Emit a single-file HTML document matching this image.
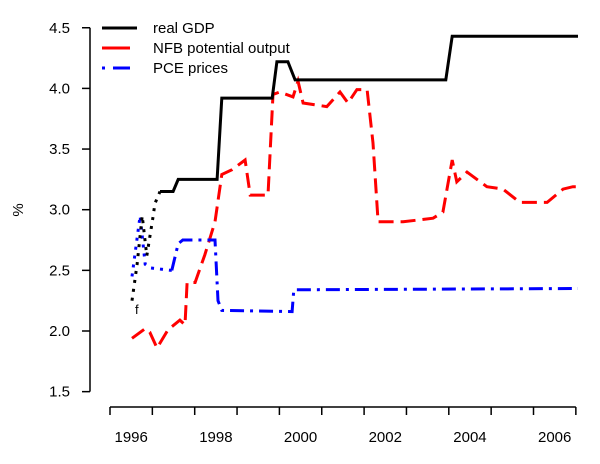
<!DOCTYPE html>
<html><head><meta charset="utf-8"><style>
body{margin:0;background:#fff;}
svg{display:block;font-family:"Liberation Sans",Arial,sans-serif;}
</style></head><body>
<svg id="chart" width="600" height="464" viewBox="0 0 600 464" xmlns="http://www.w3.org/2000/svg"></svg>
<script>
const yTicks = [1.5, 2.0, 2.5, 3.0, 3.5, 4.0, 4.5];
const yTickLabels = ["1.5", "2.0", "2.5", "3.0", "3.5", "4.0", "4.5"];
const xTickYears = [1996,1997,1998,1999,2000,2001,2002,2003,2004,2005,2006,2007];
const xLabelYears = [1996, 1998, 2000, 2002, 2004, 2006];
const gdpYears = [1996.52,1996.64,1996.76,1996.87,1997.02,1997.06,1997.18,1997.49,1997.61,1998.53,1998.64,1999.83,1999.94,2000.20,2000.37,2003.93,2004.08,2007.05];
const gdpValues = [2.25,2.55,2.95,2.62,2.95,3.05,3.15,3.15,3.25,3.25,3.92,3.92,4.22,4.22,4.07,4.07,4.43,4.43];
const nfbYears = [1996.52,1996.83,1996.94,1997.11,1997.37,1997.65,1997.77,1997.82,1998.01,1998.24,1998.48,1998.64,1998.88,1999.19,1999.31,1999.73,1999.85,2000.01,2000.32,2000.44,2000.56,2001.12,2001.43,2001.62,2001.83,2002.07,2002.21,2002.33,2002.92,2003.63,2003.86,2004.08,2004.19,2004.43,2004.90,2005.28,2005.68,2006.32,2006.70,2006.93,2007.05];
const nfbValues = [1.94,2.02,1.99,1.86,2.01,2.09,2.05,2.40,2.40,2.63,2.90,3.29,3.33,3.41,3.12,3.12,3.95,3.97,3.93,4.06,3.88,3.85,3.97,3.88,3.99,3.99,3.55,2.90,2.90,2.93,2.98,3.41,3.23,3.31,3.19,3.17,3.06,3.06,3.17,3.19,3.19];
const pceYears = [1996.52,1996.71,1996.83,1996.94,1997.46,1997.61,1997.72,1998.48,1998.55,1998.64,2000.30,2000.34,2007.05];
const pceValues = [2.45,2.95,2.55,2.52,2.50,2.72,2.75,2.75,2.25,2.17,2.16,2.34,2.35];
const gdpDotCut = 6;
const pceDotCut = 4;

const NS = "http://www.w3.org/2000/svg";
const svg = document.getElementById('chart');
const X = yr => 110 + (yr - 1996) * 42.35;
const Y = v => 331 - (v - 2) * 121.3;
function mk(tag, attrs, parent) {
  const e = document.createElementNS(NS, tag);
  for (const k in attrs) e.setAttribute(k, attrs[k]);
  (parent || svg).appendChild(e);
  return e;
}
let ya = mk('line', {x1:90, y1:Y(1.5), x2:90, y2:Y(4.5), stroke:'#000', 'stroke-width':1.5});


yTicks.forEach((v, i) => {
  const t = mk('line', {x1:82, y1:Y(v), x2:90, y2:Y(v), stroke:'#000', 'stroke-width':1.5});
  
  
  const l = mk('text', {x:70, y:Y(v)+5, 'text-anchor':'end', 'font-size':15, fill:'#000'});
  l.textContent = yTickLabels[i];
  
  
});
const yt = mk('text', {x:0, y:0, 'font-size':15, 'text-anchor':'middle', transform:'translate(23,210) rotate(-90)'});
yt.textContent = '%';


const xa = mk('line', {x1:X(1996), y1:407, x2:X(2007), y2:407, stroke:'#000', 'stroke-width':1.5});


xTickYears.forEach(yr => {
  const t = mk('line', {x1:X(yr), y1:407, x2:X(yr), y2:415, stroke:'#000', 'stroke-width':1.5});
  
  
});
xLabelYears.forEach(yr => {
  const l = mk('text', {x:X(yr+0.5), y:442, 'text-anchor':'middle', 'font-size':15});
  l.textContent = String(yr);
  
  
});
function pts(ys, vs, a, b) {
  const out = [];
  for (let i = a; i <= b; i++) out.push(X(ys[i]).toFixed(1) + ',' + Y(vs[i]).toFixed(1));
  return out.join(' ');
}
const nfb = mk('polyline', {points:pts(nfbYears, nfbValues, 0, nfbYears.length-1), fill:'none', stroke:'#ff0000', 'stroke-width':3, 'stroke-dasharray':'15 7'});


const pce1 = mk('polyline', {points:pts(pceYears, pceValues, 0, pceDotCut), fill:'none', stroke:'#0000ff', 'stroke-width':3, 'stroke-dasharray':'3 6'});


const pce2 = mk('polyline', {points:pts(pceYears, pceValues, pceDotCut, pceYears.length-1), fill:'none', stroke:'#0000ff', 'stroke-width':3, 'stroke-dasharray':'14 6 3 6'});


const g1 = mk('polyline', {points:pts(gdpYears, gdpValues, 0, gdpDotCut), fill:'none', stroke:'#000', 'stroke-width':3, 'stroke-dasharray':'3 6'});


const g2 = mk('polyline', {points:pts(gdpYears, gdpValues, gdpDotCut, gdpYears.length-1), fill:'none', stroke:'#000', 'stroke-width':3});


const f = mk('text', {x:135, y:314, 'font-size':13});
f.textContent = 'f';


</script>
<svg style="position:absolute;left:0;top:0" width="600" height="90">
  <g>
    <line x1="102" y1="28" x2="137" y2="28" stroke="#000" stroke-width="3"/>
    <text x="153" y="33" font-size="15" font-family="Liberation Sans, sans-serif">real GDP</text>
  </g>
  <g>
    <line x1="102" y1="48" x2="130" y2="48" stroke="#ff0000" stroke-width="3"/>
    <text x="153" y="53" font-size="15" font-family="Liberation Sans, sans-serif">NFB potential output</text>
  </g>
  <g>
    <line x1="102" y1="68" x2="136" y2="68" stroke="#0000ff" stroke-width="3" stroke-dasharray="3 8 14 0"/>
    <text x="153" y="73" font-size="15" font-family="Liberation Sans, sans-serif">PCE prices</text>
  </g>
</svg>
</body></html>
